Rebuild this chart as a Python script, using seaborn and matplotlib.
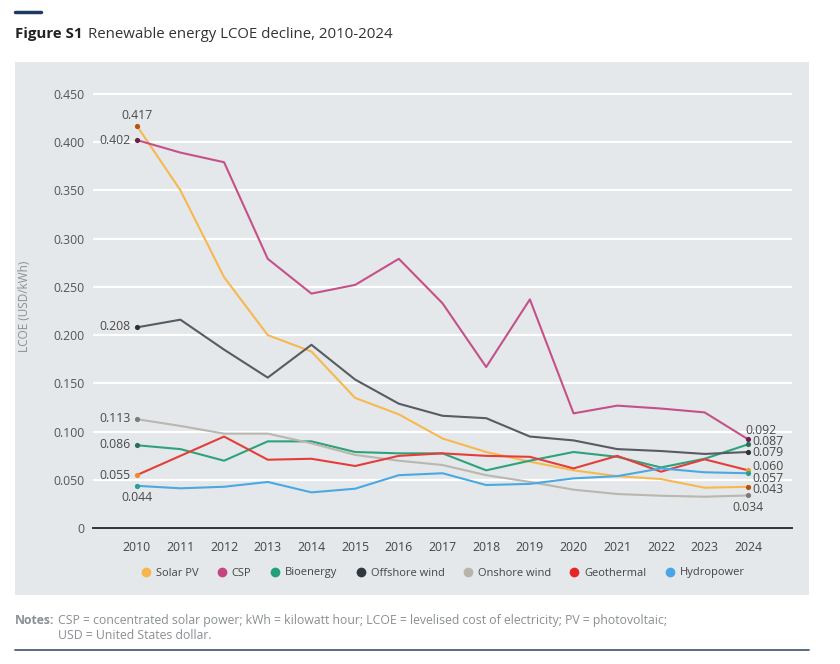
import numpy as np
import pandas as pd
import seaborn as sns
import matplotlib.pyplot as plt
from matplotlib.patches import Rectangle
from matplotlib.lines import Line2D

# data (USD/kWh)
years = list(range(2010, 2025))
solar_pv = [0.417, 0.350, 0.260, 0.200, 0.183, 0.135, 0.118, 0.093, 0.079, 0.069, 0.060, 0.054, 0.051, 0.042, 0.043]
csp = [0.402, 0.389, 0.379, 0.279, 0.243, 0.252, 0.279, 0.233, 0.167, 0.237, 0.119, 0.127, 0.124, 0.120, 0.092]
bioenergy = [0.086, 0.082, 0.070, 0.090, 0.090, 0.079, 0.0776, 0.0776, 0.060, 0.070, 0.079, 0.074, 0.063, 0.072, 0.087]
offshore_wind = [0.208, 0.216, 0.185, 0.156, 0.190, 0.154, 0.129, 0.1165, 0.114, 0.095, 0.091, 0.082, 0.080, 0.077, 0.079]
onshore_wind = [0.113, 0.106, 0.098, 0.098, 0.088, 0.076, 0.070, 0.0655, 0.055, 0.048, 0.040, 0.0355, 0.0337, 0.0327, 0.034]
geothermal = [0.055, 0.075, 0.095, 0.071, 0.072, 0.0645, 0.075, 0.0776, 0.075, 0.074, 0.062, 0.075, 0.0586, 0.0714, 0.060]
hydropower = [0.044, 0.0414, 0.043, 0.048, 0.0372, 0.041, 0.055, 0.057, 0.0448, 0.046, 0.0517, 0.054, 0.062, 0.058, 0.057]

series = {
    "Solar PV": solar_pv,
    "CSP": csp,
    "Bioenergy": bioenergy,
    "Offshore wind": offshore_wind,
    "Onshore wind": onshore_wind,
    "Geothermal": geothermal,
    "Hydropower": hydropower,
}
line_colors = {
    "Solar PV": "#f7b84f",
    "CSP": "#c65089",
    "Bioenergy": "#2ea27a",
    "Offshore wind": "#575c60",
    "Onshore wind": "#b9b7ae",
    "Geothermal": "#e53d3a",
    "Hydropower": "#4aa9e2",
}
legend_colors = {
    "Solar PV": "#f8b54a",
    "CSP": "#c4457f",
    "Bioenergy": "#21a07a",
    "Offshore wind": "#2f383d",
    "Onshore wind": "#b8b5a8",
    "Geothermal": "#e3262a",
    "Hydropower": "#46a6e6",
}
# small end markers are darker than the lines
start_colors = {
    "Solar PV": "#b4520e", "CSP": "#6a1f4a", "Bioenergy": "#2d6e58",
    "Offshore wind": "#2d3236", "Onshore wind": "#7d7c76",
    "Geothermal": "#f08a30", "Hydropower": "#27a08f",
}
end_colors = {
    "Solar PV": "#b4520e", "CSP": "#6a1f4a", "Bioenergy": "#2d6e58",
    "Offshore wind": "#2d3236", "Onshore wind": "#7d7c76",
    "Geothermal": "#f49a2a", "Hydropower": "#27a08f",
}
# label offsets in pixels (dx, dy upward), horizontal alignment
start_labels = {
    "Solar PV": (0, 10, "center"), "CSP": (-6, 0, "right"), "Offshore wind": (-6, 1, "right"),
    "Onshore wind": (-6, 1, "right"), "Bioenergy": (-6, 1, "right"),
    "Geothermal": (-6, 0, "right"), "Hydropower": (0, -12, "center"),
}
end_labels = {
    "CSP": (-3, 8.5, "left"), "Bioenergy": (4, 2.5, "left"), "Offshore wind": (4, -0.5, "left"),
    "Geothermal": (4, 4, "left"), "Hydropower": (4, -5, "left"),
    "Solar PV": (4, -2.5, "left"), "Onshore wind": (0, -12, "center"),
}

df = pd.DataFrame(series, index=years).rename_axis("Year").reset_index()
long_df = df.melt(id_vars="Year", var_name="Technology", value_name="LCOE")

sns.set_style("white")
plt.rcParams["font.family"] = ["Open Sans", "DejaVu Sans"]

fig = plt.figure(figsize=(8.4, 6.64), dpi=100)
W, H = 840, 664

# grey panel behind the chart
fig.patches.append(Rectangle((15 / W, 1 - 595 / H), (809 - 15) / W, (595 - 62) / H,
                             transform=fig.transFigure, facecolor="#e4e8eb",
                             edgecolor="none", zorder=-10))

ax = fig.add_axes([93 / W, 1 - 528.3 / H, (792 - 93) / W, (528.3 - 84) / H])
ax.set_facecolor("none")
ax.set_zorder(2)

sns.lineplot(data=long_df, x="Year", y="LCOE", hue="Technology",
             palette=line_colors, linewidth=1.5, legend=False, ax=ax, zorder=3)

ax.set_xlim(2009, 2025)
ax.set_ylim(0, 0.46)
ax.set_xticks(years)
ax.set_yticks(np.arange(0, 0.451, 0.05))
ax.set_yticklabels(["0"] + [f"{v:.3f}" for v in np.arange(0.05, 0.451, 0.05)])
ax.grid(axis="y", color="white", linewidth=1.6, zorder=1)
ax.set_axisbelow(True)
for s in ["top", "right", "left"]:
    ax.spines[s].set_visible(False)
ax.spines["bottom"].set_color("#333333")
ax.spines["bottom"].set_linewidth(1.4)
ax.spines["bottom"].set_zorder(4)
ax.tick_params(axis="x", direction="out", length=5, width=1, color="#333333",
               labelsize=8.8, labelcolor="#444444", pad=4)
ax.tick_params(axis="y", length=0, labelsize=8.8, labelcolor="#555555", pad=6)
ax.set_xlabel("")
ax.set_ylabel("LCOE (USD/kWh)", fontsize=8.5, color="#8a8f93", labelpad=16)

px = 0.72  # points per pixel at 100 dpi
for name, vals in series.items():
    ax.scatter([years[0]], [vals[0]], s=14, color=start_colors[name], zorder=5, linewidths=0)
    ax.scatter([years[-1]], [vals[-1]], s=14, color=end_colors[name], zorder=5, linewidths=0)
    dx, dy, ha = start_labels[name]
    ax.annotate(f"{vals[0]:.3f}", (years[0], vals[0]), xytext=(dx * px, dy * px),
                textcoords="offset points", ha=ha, va="center", fontsize=8.8, color="#4a4a4a")
    dx, dy, ha = end_labels[name]
    ax.annotate(f"{vals[-1]:.3f}", (years[-1], vals[-1]), xytext=(dx * px, dy * px),
                textcoords="offset points", ha=ha, va="center", fontsize=8.8, color="#4a4a4a")

handles = [Line2D([], [], marker="o", linestyle="none", markersize=7,
                  markerfacecolor=legend_colors[n], markeredgecolor="none", label=n)
           for n in series]
fig.legend(handles=handles, loc="center", bbox_to_anchor=(442 / W, 1 - 573 / H), ncol=7,
           frameon=False, fontsize=8, handletextpad=0.3, columnspacing=1.5,
           handlelength=1.2, labelcolor="#444444")

# header bar and title
fig.add_artist(Line2D([15 / W, 41 / W], [1 - 12 / H, 1 - 12 / H], color="#1f3a5f", linewidth=2.5))
t1 = fig.text(15 / W, 1 - 38 / H, "Figure S1", fontsize=10.8, fontweight="bold",
              color="#222222", va="baseline", ha="left")
fig.canvas.draw()
bb = t1.get_window_extent()
fig.text((bb.x1 + 6) / W, 1 - 38 / H, "Renewable energy LCOE decline, 2010-2024",
         fontsize=10.8, color="#333333", va="baseline", ha="left")

# notes
n1 = fig.text(15 / W, 1 - 624 / H, "Notes:", fontsize=8.8, fontweight="bold",
              color="#8a8f93", va="baseline", ha="left")
fig.canvas.draw()
nb = n1.get_window_extent()
fig.text((nb.x1 + 3) / W, 1 - 624 / H,
         "CSP = concentrated solar power; kWh = kilowatt hour; LCOE = levelised cost of electricity; PV = photovoltaic;",
         fontsize=8.8, color="#8a8f93", va="baseline", ha="left")
fig.text((nb.x1 + 3) / W, 1 - 639 / H, "USD = United States dollar.",
         fontsize=8.8, color="#8a8f93", va="baseline", ha="left")
fig.add_artist(Line2D([15 / W, 809 / W], [1 - 650 / H, 1 - 650 / H], color="#4d5f7a", linewidth=1.3))

fig.savefig("out.png", dpi=100)
